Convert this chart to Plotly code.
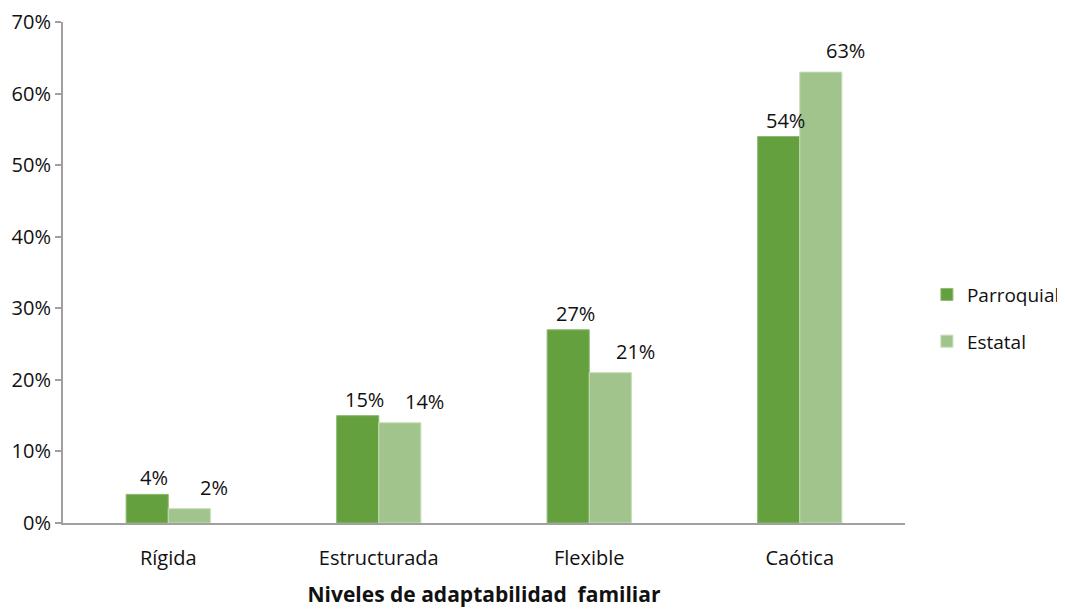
import plotly.graph_objects as go

categories = ["Rígida", "Estructurada", "Flexible", "Caótica"]
parroquial = [4, 15, 27, 54]
estatal = [2, 14, 21, 63]
series_names = ["Parroquial", "Estatal"]
y_ticks = [0, 10, 20, 30, 40, 50, 60, 70]
y_tick_labels = [f"{v}%" for v in y_ticks]
x_title = "Niveles de adaptabilidad  familiar"

FONT = "Open Sans"
TXT = "#111111"
FS = 20
c_par = "#65a03f"
c_est = "#a0c48b"

fig = go.Figure()
fig.add_trace(go.Bar(x=categories, y=parroquial, name=series_names[0], legendgroup="a",
                     marker=dict(color=c_par, line=dict(color="#8cba74", width=1))))
fig.add_trace(go.Bar(x=categories, y=estatal, name=series_names[1], legendgroup="b",
                     marker=dict(color=c_est, line=dict(color="#c6ddb8", width=1))))

# data labels
for vals, dx, dy in ((parroquial, -14, 1), (estatal, 46, 6)):
    for c, v in zip(categories, vals):
        fig.add_annotation(x=c, y=v, text=f"{v}%", showarrow=False,
                           xref="x", yref="y", xshift=dx, yshift=dy, yanchor="bottom",
                           font=dict(family=FONT, size=FS, color=TXT))

fig.update_layout(
    width=1065, height=609,
    margin=dict(l=55, r=168, t=14, b=94, autoexpand=False),
    paper_bgcolor="white", plot_bgcolor="white",
    barmode="group", bargap=0.6, bargroupgap=0,
    font=dict(family=FONT, size=FS, color=TXT),
    showlegend=True,
    legend=dict(x=1.026, y=0.409, xanchor="left", yanchor="middle",
                font=dict(family=FONT, size=19, color=TXT),
                tracegroupgap=19, traceorder="grouped", itemwidth=30),
    xaxis=dict(showline=True, linecolor="#a0a0a0", linewidth=2,
               ticks="outside", ticklen=16, tickcolor="rgba(0,0,0,0)",
               automargin=False,
               title=dict(text=f"<b>{x_title}</b>", standoff=17,
                          font=dict(family=FONT, size=21, color=TXT)),
               tickfont=dict(family=FONT, size=FS, color=TXT)),
    yaxis=dict(range=[0, 70], tickvals=y_ticks, ticktext=y_tick_labels,
               automargin=False, ticklabeloverflow="allow",
               showline=True, linecolor="#a0a0a0", linewidth=2,
               ticks="outside", ticklen=6, tickcolor="#a0a0a0", tickwidth=2,
               showgrid=False, zeroline=False,
               tickfont=dict(family=FONT, size=FS, color=TXT)),
)

fig.write_html("out.html")
